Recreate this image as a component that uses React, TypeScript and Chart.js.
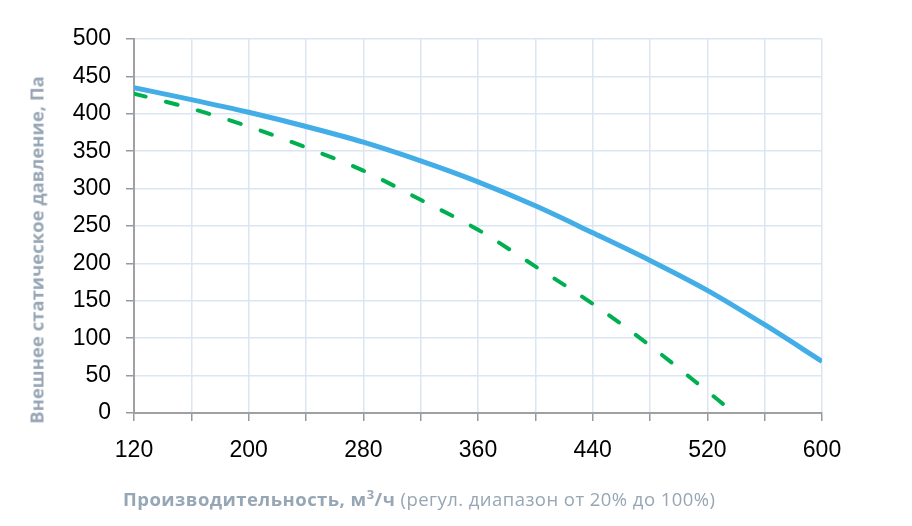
import { useEffect, useRef } from "react";
import { Chart, registerables } from "chart.js";

Chart.register(...registerables);

// расход, м3/ч
const flowBlue = [120, 160, 200, 240, 280, 320, 360, 400, 440, 480, 520, 560, 600];
// давление, Па (сплошная синяя)
const pressureBlue = [435, 419, 402, 383, 362, 337, 309, 277, 241, 204, 164, 118, 69];

const flowGreen = [120, 160, 200, 240, 280, 320, 360, 400, 440, 480, 520, 531];
// давление, Па (зелёная пунктирная)
const pressureGreen = [427, 407, 383, 355, 324, 285, 245, 196, 146, 90, 29, 12];

const xLabels = [120, 200, 280, 360, 440, 520, 600];

const W = 912;
const H = 526;
const TEXT_GRAY = "#97a6b4";

export default function App() {
  const ref = useRef<HTMLCanvasElement>(null);

  useEffect(() => {
    if (!ref.current) return;
    const tickFont = { family: "'Liberation Sans', Arial, sans-serif", size: 23 };

    const chart = new Chart(ref.current, {
      type: "line",
      data: {
        datasets: [
          {
            data: flowBlue.map((x, i) => ({ x, y: pressureBlue[i] })),
            borderColor: "#42ade6",
            borderWidth: 5,
            cubicInterpolationMode: "monotone",
            pointRadius: 0,
            fill: false,
          },
          {
            data: flowGreen.map((x, i) => ({ x, y: pressureGreen[i] })),
            borderColor: "#00b050",
            borderWidth: 4,
            borderDash: [12, 21],
            borderCapStyle: "round",
            cubicInterpolationMode: "monotone",
            pointRadius: 0,
            fill: false,
          },
        ],
      },
      options: {
        responsive: false,
        maintainAspectRatio: false,
        animation: false,
        layout: { padding: { left: 0, top: 39, right: 90, bottom: 53 } },
        plugins: { legend: { display: false }, tooltip: { enabled: false } },
        scales: {
          x: {
            type: "linear",
            min: 120,
            max: 600,
            afterBuildTicks: (axis) => {
              const t = [];
              for (let v = 120; v <= 600; v += 40) t.push({ value: v });
              axis.ticks = t;
            },
            afterFit: (axis) => {
              axis.height = 60;
            },
            grid: {
              color: "#dce6f2",
              lineWidth: 1.5,
              tickColor: "#999999",
              tickLength: 8,
            },
            border: { color: "#a0a0a0", width: 2 },
            ticks: {
              color: "#000",
              font: tickFont,
              padding: 16,
              maxRotation: 0,
              autoSkip: false,
              callback: (v) => (xLabels.includes(Number(v)) ? String(v) : ""),
            },
          },
          y: {
            min: 0,
            max: 500,
            afterFit: (axis) => {
              axis.width = 134;
            },
            grid: {
              color: "#dce6f2",
              lineWidth: 1.5,
              tickColor: "#999999",
              tickLength: 8,
            },
            border: { color: "#a0a0a0", width: 2 },
            ticks: {
              stepSize: 50,
              color: "#000",
              font: tickFont,
              padding: 15,
            },
          },
        },
      },
    });

    return () => chart.destroy();
  }, []);

  return (
    <div
      style={{
        position: "fixed",
        left: 0,
        top: 0,
        width: W,
        height: H,
        background: "#fff",
        fontFamily: "'Open Sans', sans-serif",
      }}
    >
      <canvas ref={ref} width={W} height={H} style={{ display: "block" }} />
      <div
        style={{
          position: "absolute",
          left: 36,
          top: 250,
          transform: "translate(-50%, -50%) rotate(-90deg)",
          whiteSpace: "nowrap",
          color: TEXT_GRAY,
          fontWeight: 700,
          fontSize: 18.5,
          letterSpacing: 0,
        }}
      >
        Внешнее статическое давление, Па
      </div>
      <div
        style={{
          position: "absolute",
          left: 123,
          top: 483,
          whiteSpace: "nowrap",
          color: TEXT_GRAY,
          fontSize: 18.5,
          letterSpacing: 0.45,
          lineHeight: "22px",
        }}
      >
        <b>
          Производительность, м<sup style={{ fontSize: 13 }}>3</sup>/ч
        </b>{" "}
        (регул. диапазон от 20% до 100%)
      </div>
    </div>
  );
}
